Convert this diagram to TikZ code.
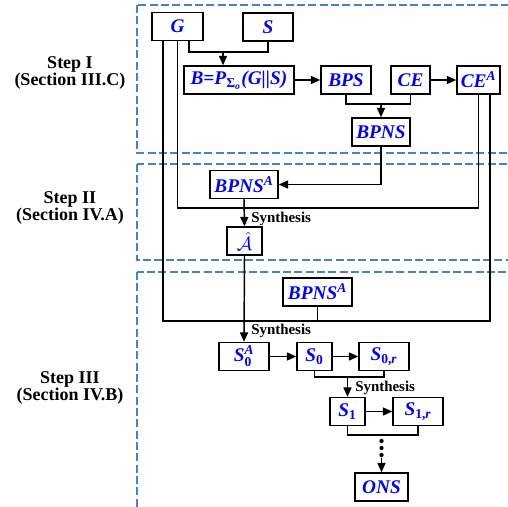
\documentclass[tikz,border=0pt]{standalone}
\usepackage{fontspec}
\usepackage{amsmath}
\setmainfont{Liberation Serif}
\usetikzlibrary{arrows.meta,calc}
\definecolor{regionblue}{RGB}{68,132,196}

\begin{document}
\begin{tikzpicture}[x=0.75pt, y=-0.75pt,
    block/.style={rectangle, draw, line width=1.1pt, inner sep=0pt, minimum height=21pt, text=blue, font=\fontsize{14.5}{16}\selectfont\bfseries\itshape},
    arrow/.style={-{Triangle[length=7pt,width=6pt]}, line width=1.1pt},
    line/.style={line width=1.1pt},
    region/.style={draw=regionblue, dash pattern=on 6pt off 2.5pt, line width=1.1pt},
    steplabel/.style={align=center, font=\fontsize{13.5}{13.2}\selectfont\bfseries},
    synth/.style={anchor=base west, inner sep=0pt, font=\fontsize{11.2}{13}\selectfont\bfseries}
]
\useasboundingbox (0,0) rectangle (508,507);

% Regioes tracejadas
\draw[region] (137,5) rectangle (515,153);
\draw[region] (137,164) rectangle (515,260);
\draw[region] (137,272) rectangle (515,515);

\node[steplabel] (step1) at (70,73) {Step I\\(Section III.C)};
\node[steplabel] (step2) at (70,208) {Step II\\(Section IV.A)};
\node[steplabel] (step3) at (70,388) {Step III\\(Section IV.B)};

% Step I
\node[block, minimum width=38.25pt] (G) at (177.5,26.5) {G};
\node[block, minimum width=37.5pt] (S) at (268,27) {S};
\node[block, minimum width=82.5pt] (B) at (239,80) {B=P$_{\text{\upshape Σ}_{\text{o}}}$(G||S)};
\node[block, minimum width=37.5pt] (BPS) at (346,80) {BPS};
\node[block, minimum width=29.25pt] (CE) at (410.5,80) {CE};
\node[block, minimum width=32.25pt] (CEA) at (478.5,80) {CE$^{\text{A}}$};
\node[block, minimum width=43.5pt] (BPNS) at (381,132) {BPNS};

% Step II
\node[block, minimum width=51pt] (BPNSA2) at (244,184.5) {BPNS$^{\text{A}}$};
\node[block, minimum width=26.25pt, font=\fontsize{14}{16}\selectfont] (hatA) at (244.5,241) {$\hat{\mathcal{A}}$};

% Step III
\node[block, minimum width=51.75pt] (BPNSA3) at (317.5,292) {BPNS$^{\text{A}}$};
\node[block, minimum width=37.5pt] (S0A) at (244,356.5) {S$^{\text{A}}_{\text{\upshape 0}}$};
\node[block, minimum width=26.25pt] (S0) at (314.5,356.5) {S$_{\text{\upshape 0}}$};
\node[block, minimum width=37.5pt] (S0r) at (384,356.5) {S$_{\text{\upshape 0,}\text{r}}$};
\node[block, minimum width=26.25pt] (S1) at (347.5,411.5) {S$_{\text{\upshape 1}}$};
\node[block, minimum width=37.5pt] (S1r) at (418,411.5) {S$_{\text{\upshape 1,}\text{r}}$};
\node[block, minimum width=39.75pt] (ONS) at (381.5,487) {ONS};

% Setas Step I
\coordinate (jGS) at (223,52);
\draw[line] ($(G.south)+(11.5,0)$) |- (jGS) -| (S.south);
\draw[arrow] (jGS) -- (B.north -| jGS);
\draw[arrow] (B) -- (BPS);
\draw[arrow] (CE) -- (CEA);
\coordinate (jBC) at (381,104);
\draw[line] (BPS.south) |- (jBC) -| (CE.south);
\draw[arrow] (jBC) -- (BPNS.north);

% Setas Step II
\draw[arrow] (BPNS.south) |- (BPNSA2.east);
\coordinate (j2) at (244,208);
\draw[line] (G.south) |- (j2) -| (CEA.south);
\draw[arrow] (BPNSA2.south) -- (hatA.north);
\node[synth] (syn1) at (251,222) {Synthesis};

% Setas Step III
\coordinate (j3) at (317.5,321);
\draw[line] ($(G.south)+(-14.5,0)$) |- (j3) -| ($(CEA.south)+(11.5,0)$);
\draw[line] (BPNSA3.south) -- (j3);
\draw[arrow] (hatA.south) -- (S0A.north);
\node[synth] (syn2) at (251,334) {Synthesis};
\draw[arrow] (S0A) -- (S0);
\draw[arrow] (S0) -- (S0r);
\coordinate (j4) at (347.5,377);
\draw[line] (S0.south) |- (j4) -| (S0r.south);
\draw[arrow] (j4) -- (S1.north);
\node[synth] (syn3) at (355,391) {Synthesis};
\draw[arrow] (S1) -- (S1r);
\coordinate (j5) at (381.5,435);
\coordinate (dotend) at (381.5,458);
\draw[line] (S1.south) |- (j5) -| (S1r.south);
\draw[line width=3.2pt, line cap=round, dash pattern=on 0pt off 5.25pt] ($(j5)+(0,6)$) -- (dotend);
\draw[arrow] (dotend) -- (ONS.north);

\end{tikzpicture}
\end{document}
